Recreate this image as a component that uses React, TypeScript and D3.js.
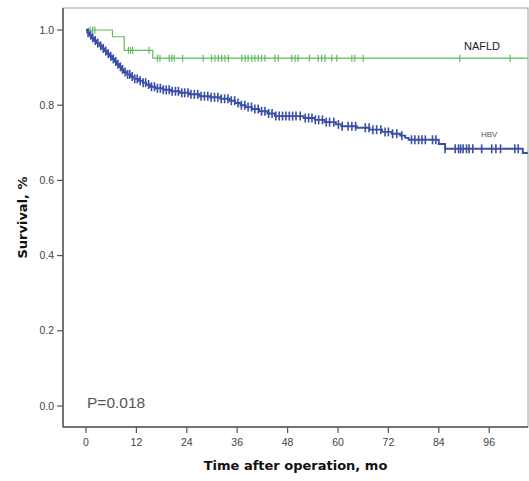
import React from "react";
import * as d3 from "d3";

const xTicks = [0, 12, 24, 36, 48, 60, 72, 84, 96];
const yTicks = [0, 0.2, 0.4, 0.6, 0.8, 1.0];

// NAFLD Kaplan-Meier steps: [time, survival after event]
const nafldSteps: [number, number][] = [
  [6.3, 0.982],
  [9.1, 0.946],
  [15.9, 0.925],
];
const nafldEnd = 105.2;
const nafldCensor = [
  0.95, 1.6, 2.1, 10.1, 10.6, 11.1, 15.0, 17.0, 17.6, 19.8, 20.4, 21.0, 23.0,
  27.9, 29.9, 30.7, 31.5, 32.3, 33.1, 33.9, 37.1, 37.9, 38.6, 39.5, 40.2, 41.0,
  41.8, 42.6, 45.0, 45.8, 49.0, 49.8, 50.5, 53.2, 55.3, 56.1, 56.9, 58.5, 59.7,
  63.3, 64.0, 66.0, 89.0, 101.0,
];

// HBV Kaplan-Meier steps
const hbvSteps: [number, number][] = [
  [0.3, 0.993], [0.8, 0.986], [1.3, 0.979], [1.9, 0.972], [2.5, 0.965],
  [3.2, 0.958], [3.8, 0.951], [4.4, 0.944], [5.0, 0.937], [5.6, 0.930],
  [6.2, 0.923], [6.8, 0.916], [7.3, 0.909], [7.9, 0.902], [8.4, 0.895],
  [9.0, 0.888], [9.8, 0.882], [10.7, 0.876], [11.5, 0.870], [12.6, 0.865],
  [13.5, 0.860], [14.3, 0.855], [15.2, 0.849], [16.5, 0.845], [18.4, 0.841],
  [20.3, 0.837], [22.3, 0.833], [24.5, 0.829], [27.0, 0.824], [29.5, 0.821],
  [32.0, 0.817], [34.2, 0.812], [35.5, 0.806], [36.8, 0.800], [38.0, 0.795],
  [39.5, 0.790], [41.2, 0.784], [43.2, 0.778], [45.0, 0.771], [51.8, 0.766],
  [54.5, 0.761], [56.8, 0.755], [59.5, 0.749], [60.8, 0.744], [64.5, 0.740],
  [67.5, 0.735], [70.5, 0.729], [72.8, 0.724], [74.8, 0.719], [76.0, 0.713],
  [76.8, 0.708], [84.0, 0.697], [85.5, 0.684], [104.0, 0.673],
];
const hbvEnd = 105.2;
const hbvCensor = [
  0.5, 1.1, 1.6, 2.2, 2.8, 3.5, 4.1, 4.7, 5.3, 5.9, 6.5, 7.1, 7.6, 8.2, 8.7,
  9.3, 9.9, 10.4, 11.0, 11.6, 12.2, 12.9, 13.6, 14.2, 14.9, 15.6, 16.3, 17.0,
  17.7, 18.4, 19.1, 19.8, 20.5, 21.3, 22.0, 22.8, 23.5, 24.3, 25.0, 25.8, 26.6,
  27.4, 28.2, 29.0, 29.8, 30.6, 31.4, 32.2, 33.0, 33.8, 34.6, 35.4, 36.2, 37.0,
  37.8, 38.6, 39.4, 40.2, 41.0, 41.8, 42.6, 43.5, 44.3, 45.2, 46.0, 46.8, 47.6,
  48.4, 49.2, 50.0, 51.0, 52.2, 53.0, 53.8, 54.6, 55.4, 56.3, 57.2, 58.0, 59.0,
  60.1, 61.0, 62.4, 63.3, 64.2, 66.5, 67.4, 68.3, 69.2, 70.2, 71.2, 72.0, 73.0,
  74.0, 75.2, 77.5, 78.3, 79.2, 80.0, 80.8, 82.5, 83.3, 85.5, 87.9, 88.7, 89.2,
  89.8, 90.6, 91.2, 92.1, 94.2, 96.6, 97.6, 98.7, 102.1, 102.9,
];

const W = 529;
const H = 481;
const left = 63;
const right = 528;
const top = 8;
const bottom = 427;

const x = d3.scaleLinear().domain([-5.476, 105.24]).range([left, right]);
const y = d3.scaleLinear().domain([0, 1]).range([406, 30]);

function stepPoints(steps: [number, number][], end: number): [number, number][] {
  const pts: [number, number][] = [[0, 1]];
  for (const [t, s] of steps) pts.push([t, s]);
  pts.push([end, steps[steps.length - 1][1]]);
  return pts;
}

function survAt(steps: [number, number][], t: number): number {
  let s = 1;
  for (const [tt, ss] of steps) {
    if (tt <= t) s = ss;
  }
  return s;
}

const line = d3
  .line<[number, number]>()
  .x((d) => x(d[0]))
  .y((d) => y(d[1]))
  .curve(d3.curveStepAfter);

const GREEN = "#5fbb5f";
const BLUE = "#3a4ea6";
const SANS = "Liberation Sans, Arial, sans-serif";
const BOLD = "DejaVu Sans, Verdana, sans-serif";

export default function App() {
  const nafldPts = stepPoints(nafldSteps, nafldEnd);
  const hbvPts = stepPoints(hbvSteps, hbvEnd);
  return (
    <svg
      width={W}
      height={H}
      style={{ position: "absolute", left: 0, top: 0, background: "#fff" }}
      fontFamily={SANS}
    >
      <rect x={0} y={0} width={W} height={H} fill="#fff" />
      {/* frame */}
      <rect
        x={left}
        y={top}
        width={right - left}
        height={bottom - top}
        fill="none"
        stroke="#a0a0a0"
        strokeWidth={1}
      />
      <line x1={left} x2={left} y1={top} y2={bottom} stroke="#555" strokeWidth={1.5} />
      <line x1={left} x2={right} y1={bottom} y2={bottom} stroke="#555" strokeWidth={1.5} />
      {/* y ticks */}
      {yTicks.map((v) => (
        <g key={"y" + v}>
          <line x1={57} x2={left} y1={y(v)} y2={y(v)} stroke="#555" strokeWidth={1.2} />
          <text x={54} y={y(v)} dy="0.35em" textAnchor="end" fontSize={10.5} fill="#444">
            {v.toFixed(1)}
          </text>
        </g>
      ))}
      {/* x ticks */}
      {xTicks.map((v) => (
        <g key={"x" + v}>
          <line x1={x(v)} x2={x(v)} y1={bottom} y2={bottom + 6} stroke="#555" strokeWidth={1.2} />
          <text x={x(v)} y={446} textAnchor="middle" fontSize={10.5} fill="#444">
            {v}
          </text>
        </g>
      ))}
      <text
        x={(left + right) / 2}
        y={470}
        textAnchor="middle"
        fontSize={13}
        fontWeight="bold"
        fontFamily={BOLD}
        fill="#111"
      >
        Time after operation, mo
      </text>
      <text
        transform={`translate(27,${(top + bottom) / 2}) rotate(-90)`}
        textAnchor="middle"
        fontSize={13}
        fontWeight="bold"
        fontFamily={BOLD}
        fill="#111"
      >
        Survival, %
      </text>
      {/* curves */}
      <path d={line(nafldPts) || ""} fill="none" stroke={GREEN} strokeWidth={1.2} />
      {nafldCensor.map((t, i) => {
        const cx = x(t);
        const cy = y(survAt(nafldSteps, t));
        return (
          <line key={"nc" + i} x1={cx} x2={cx} y1={cy - 3.5} y2={cy + 3.5} stroke={GREEN} strokeWidth={1.2} />
        );
      })}
      <path d={line(hbvPts) || ""} fill="none" stroke={BLUE} strokeWidth={1.9} />
      {hbvCensor.map((t, i) => {
        const cx = x(t);
        const cy = y(survAt(hbvSteps, t));
        return (
          <line key={"hc" + i} x1={cx} x2={cx} y1={cy - 4.5} y2={cy + 4.5} stroke={BLUE} strokeWidth={1.6} />
        );
      })}
      <text x={464} y={49.5} fontSize={11} fill="#222">
        NAFLD
      </text>
      <text x={481} y={137} fontSize={8} fill="#555">
        HBV
      </text>
      <text x={87} y={408} fontSize={15.5} fill="#555">
        P=0.018
      </text>
    </svg>
  );
}
